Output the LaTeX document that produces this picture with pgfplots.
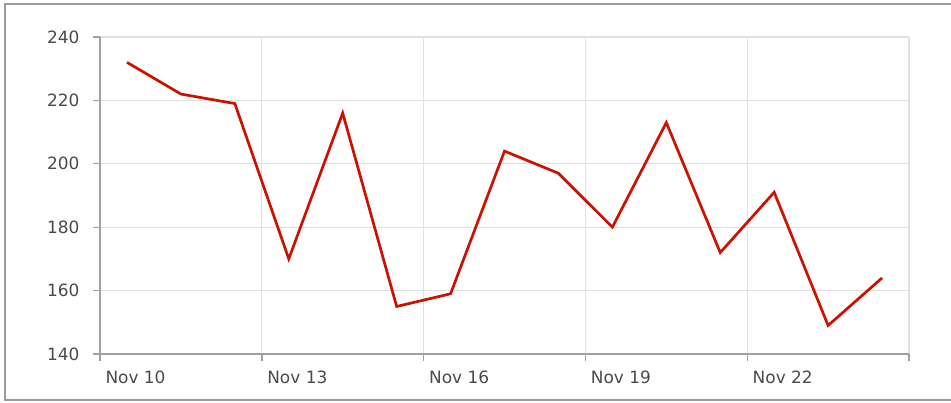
\documentclass[border=0pt]{standalone}
\usepackage{pgfplots}
\pgfplotsset{compat=1.18}
\usepackage{fontspec}
\setmainfont{DejaVu Sans}
\definecolor{linered}{HTML}{CC1100}
\definecolor{gridgray}{HTML}{E0E0E0}
\definecolor{axisgray}{HTML}{A0A0A0}
\definecolor{bordergray}{HTML}{9A9A9A}
\definecolor{labelgray}{HTML}{4A4A4A}
\begin{document}
\begin{tikzpicture}[x=1bp,y=1bp]
\useasboundingbox (0,0) rectangle (951,402);
\draw[color=bordergray, line width=1.5bp] (951,398) -- (5,398) -- (5,2) -- (951,2);
\begin{axis}[
  at={(100bp,48bp)}, anchor=south west,
  scale only axis, width=809bp, height=317bp,
  xmin=0, xmax=15, ymin=140, ymax=240,
  axis lines=left, axis line style={-, color=axisgray, line width=1.6bp},
  xtick={0,3,6,9,12,15},
  xticklabels={Nov 10,Nov 13,Nov 16,Nov 19,Nov 22,},
  ytick={140,160,180,200,220,240},
  tick align=outside, major tick length=7bp,
  tick style={color=axisgray, line width=1.4bp},
  grid=major, major grid style={color=gridgray, line width=1.3bp},
  tick label style={font=\fontsize{17}{20}\selectfont, text=labelgray},
  xticklabel style={anchor=north west, xshift=2bp, yshift=-6bp},
  yticklabel style={anchor=east, xshift=-10bp},
  /pgf/number format/assume math mode=true,
  clip=false,
]
\addplot[color=linered, line width=2.7bp] table {
x y
0.5 232
1.5 222
2.5 219
3.5 170
4.5 216
5.5 155
6.5 159
7.5 204
8.5 197
9.5 180
10.5 213
11.5 172
12.5 191
13.5 149
14.5 164
};
\end{axis}
\end{tikzpicture}
\end{document}
